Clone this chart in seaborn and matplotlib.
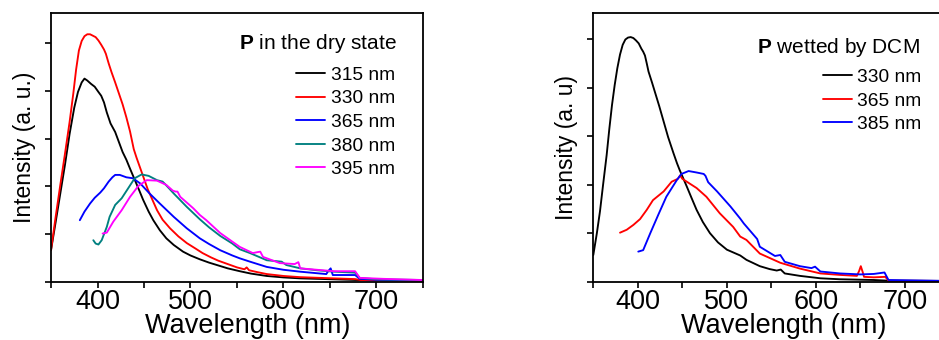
import matplotlib
matplotlib.use("Agg")
import matplotlib.pyplot as plt
from matplotlib.ticker import MultipleLocator, NullFormatter
import numpy as np
import pandas as pd
import seaborn as sns

# ---------------- data: emission spectra (wavelength in nm, intensity in a.u.) ----------------
# P in the dry state, excitation wavelengths
dry_315_x = [350, 355, 360, 365, 370, 375, 379, 383, 386, 389, 393, 397, 401, 404, 407, 410,
             414, 419, 423, 427, 431, 435, 440, 445, 449, 455, 460, 467, 474, 482, 492, 500,
             510, 520, 530, 540, 553, 565, 582, 600, 618, 636, 654, 680, 700, 750]
dry_315_y = [0.66, 1.25, 1.85, 2.45, 3.10, 3.65, 3.98, 4.18, 4.26, 4.22, 4.15, 4.09, 3.98, 3.90,
             3.76, 3.55, 3.32, 3.14, 2.93, 2.72, 2.56, 2.37, 2.14, 1.91, 1.72, 1.47, 1.29, 1.08,
             0.91, 0.77, 0.63, 0.55, 0.47, 0.40, 0.34, 0.28, 0.22, 0.17, 0.12, 0.09, 0.07, 0.06,
             0.05, 0.035, 0.03, 0.025]

dry_330_x = [350, 355, 360, 365, 370, 374, 377, 380, 383, 386, 389, 392, 395, 398, 401, 404,
             407, 409, 412, 415, 419, 423, 427, 431, 435, 439, 442, 446, 450, 454, 459, 464,
             470, 478, 487, 496, 505, 513, 522, 530, 540, 550, 558, 560.4, 563, 572, 582, 600,
             618, 654, 677, 683, 750]
dry_330_y = [0.66, 1.36, 2.03, 2.68, 3.35, 3.95, 4.45, 4.85, 5.05, 5.15, 5.19, 5.19, 5.16, 5.13,
             5.06, 4.97, 4.87, 4.78, 4.58, 4.40, 4.18, 3.95, 3.72, 3.45, 3.15, 2.78, 2.60, 2.38,
             2.16, 1.94, 1.72, 1.50, 1.30, 1.12, 0.95, 0.81, 0.70, 0.60, 0.51, 0.44, 0.37, 0.30,
             0.26, 0.30, 0.24, 0.20, 0.16, 0.12, 0.095, 0.07, 0.055, 0.035, 0.025]

dry_365_x = [381, 386, 392, 397, 403, 407, 412, 416, 419, 424, 431, 438, 446, 456, 467, 482,
             496, 510, 520, 532, 545, 553, 564, 582, 600, 618, 646, 648, 650.7, 653, 660, 677,
             682, 700, 750]
dry_365_y = [1.29, 1.47, 1.64, 1.76, 1.87, 1.96, 2.10, 2.19, 2.24, 2.24, 2.19, 2.17, 2.06, 1.85,
             1.64, 1.36, 1.12, 0.91, 0.79, 0.66, 0.55, 0.49, 0.42, 0.31, 0.25, 0.21, 0.16, 0.22,
             0.28, 0.14, 0.14, 0.14, 0.06, 0.04, 0.03]

dry_380_x = [395.5, 398, 401, 404.5, 410, 413, 419, 426, 433, 440, 447.5, 455, 464, 470, 473,
             482, 496, 510, 520, 532, 545, 553, 564, 582, 598, 603, 618, 636, 654, 677, 682,
             700, 750]
dry_380_y = [0.87, 0.80, 0.78, 0.87, 1.15, 1.36, 1.61, 1.75, 1.96, 2.17, 2.25, 2.22, 2.13, 2.10,
             2.04, 1.85, 1.57, 1.31, 1.14, 0.96, 0.80, 0.68, 0.60, 0.45, 0.42, 0.35, 0.28, 0.24,
             0.21, 0.19, 0.08, 0.05, 0.035]

dry_395_x = [405.5, 410, 417, 426, 435, 444, 453, 464, 474, 481, 484, 486, 489, 496, 503, 510,
             517, 532, 545, 553, 567, 572, 575, 578, 596, 612, 616, 618, 636, 654, 677, 682,
             707, 750]
dry_395_y = [1.01, 1.03, 1.26, 1.50, 1.78, 2.01, 2.13, 2.12, 2.03, 1.91, 1.89, 1.89, 1.78, 1.66,
             1.54, 1.40, 1.29, 1.02, 0.84, 0.73, 0.60, 0.62, 0.63, 0.52, 0.39, 0.37, 0.41, 0.28,
             0.25, 0.22, 0.22, 0.08, 0.06, 0.035]

# P wetted by DCM, excitation wavelengths
dcm_330_x = [350, 354, 357.5, 361, 365, 368, 371, 374, 377, 380, 383, 386, 389, 392, 395, 398,
             401, 404, 406, 408, 410, 412, 416, 419, 424, 429, 434, 440, 444, 447, 451, 455,
             460, 466, 473, 481, 490, 500, 515, 522, 537, 548, 556, 560.5, 565, 582, 605, 627,
             665, 682, 750]
dcm_330_y = [0.55, 1.00, 1.45, 2.00, 2.61, 3.15, 3.64, 4.05, 4.40, 4.68, 4.88, 4.99, 5.03, 5.04,
             5.02, 4.97, 4.91, 4.80, 4.74, 4.66, 4.50, 4.33, 4.10, 3.92, 3.62, 3.30, 2.98, 2.65,
             2.44, 2.30, 2.13, 1.96, 1.74, 1.48, 1.23, 1.00, 0.81, 0.66, 0.54, 0.45, 0.32, 0.26,
             0.23, 0.25, 0.17, 0.12, 0.07, 0.05, 0.035, 0.02, 0.015]

dcm_365_x = [380, 387.5, 395, 402.5, 410, 417, 429, 438, 445, 447.5, 450, 455, 466, 477, 492,
             507, 515, 522, 537, 560, 582, 605, 627, 646, 648.5, 650.4, 652.5, 654, 665, 678,
             681.5, 750]
dcm_365_y = [1.01, 1.07, 1.17, 1.29, 1.48, 1.68, 1.86, 2.06, 2.12, 2.19, 2.12, 2.06, 1.93, 1.75,
             1.41, 1.13, 0.93, 0.86, 0.58, 0.39, 0.27, 0.17, 0.14, 0.12, 0.22, 0.32, 0.20, 0.10,
             0.09, 0.10, 0.02, 0.015]

dcm_385_x = [400.5, 406, 414, 423, 432, 444, 449, 457, 466, 474, 476, 479, 489, 504, 515, 519,
             534, 537, 554, 560, 565, 582, 595, 599, 605, 627, 650, 665, 677, 681.5, 750]
dcm_385_y = [0.62, 0.65, 1.00, 1.38, 1.75, 2.10, 2.22, 2.28, 2.25, 2.22, 2.18, 2.05, 1.86, 1.55,
             1.30, 1.20, 0.88, 0.72, 0.53, 0.55, 0.41, 0.32, 0.28, 0.31, 0.21, 0.17, 0.15, 0.16,
             0.19, 0.035, 0.015]

dry_labels = ["315 nm", "330 nm", "365 nm", "380 nm", "395 nm"]
dry_colors = ["#000000", "#ff0000", "#0000ff", "#008080", "#ff00ff"]
dcm_labels = ["330 nm", "365 nm", "385 nm"]
dcm_colors = ["#000000", "#ff0000", "#0000ff"]


def long_table(xs, ys, labels):
    frames = [pd.DataFrame({"Wavelength": x, "Intensity": y, "Excitation": lab})
              for x, y, lab in zip(xs, ys, labels)]
    return pd.concat(frames, ignore_index=True)


dry = long_table([dry_315_x, dry_330_x, dry_365_x, dry_380_x, dry_395_x],
                 [dry_315_y, dry_330_y, dry_365_y, dry_380_y, dry_395_y], dry_labels)
dcm = long_table([dcm_330_x, dcm_365_x, dcm_385_x],
                 [dcm_330_y, dcm_365_y, dcm_385_y], dcm_labels)

# ---------------- style ----------------
sns.set_theme(style="ticks")
plt.rcParams["font.family"] = ["Liberation Sans", "DejaVu Sans"]
plt.rcParams["mathtext.fontset"] = "custom"
plt.rcParams["mathtext.rm"] = "Liberation Sans"
plt.rcParams["mathtext.bf"] = "Liberation Sans:bold"
for key in ["text.color", "axes.labelcolor", "xtick.color", "ytick.color",
            "xtick.labelcolor", "ytick.labelcolor"]:
    plt.rcParams[key] = "black"

fig = plt.figure(figsize=(9.39, 3.40), dpi=100)
W, H = 939.0, 340.0
ax1 = fig.add_axes([51 / W, 1 - 281.7 / H, 372 / W, 268.4 / H])
ax2 = fig.add_axes([593.3 / W, 1 - 281.7 / H, 356.2 / W, 268.4 / H])


def draw(ax, data, labels, colors, ymax, ylabel, title, title_pos, anchor, xlabel_x):
    sns.lineplot(data=data, x="Wavelength", y="Intensity", hue="Excitation",
                 hue_order=labels, palette=dict(zip(labels, colors)),
                 estimator=None, sort=False, linewidth=1.35, ax=ax, legend=False)
    ax.set_xlim(350, 750)
    ax.set_ylim(0, ymax)
    ax.xaxis.set_major_locator(MultipleLocator(100))
    ax.xaxis.set_minor_locator(MultipleLocator(50))
    ax.yaxis.set_major_locator(MultipleLocator(1))
    ax.yaxis.set_major_formatter(NullFormatter())
    ax.tick_params(axis="both", which="both", direction="out", length=4, width=1.2,
                   color="black", labelsize=19.5, pad=1)
    for s in ax.spines.values():
        s.set_linewidth(1.3)
        s.set_color("black")
    ax.set_xlabel("Wavelength (nm)", fontsize=19.5)
    ax.xaxis.set_label_coords(xlabel_x, -0.118)
    ax.xaxis.label.set_va("top")
    ax.set_ylabel(ylabel, fontsize=16.5, labelpad=6)
    ax.text(title_pos[0], title_pos[1], title, transform=ax.transAxes,
            ha="right", va="baseline", fontsize=15)
    handles = ax.get_lines()[:len(labels)]
    ax.legend(handles, labels, loc="upper right", bbox_to_anchor=anchor,
              frameon=False, fontsize=13.8, handlelength=1.5, handletextpad=0.3,
              labelspacing=0.32, borderpad=0, borderaxespad=0)


draw(ax1, dry, dry_labels, dry_colors, 5.63, "Intensity (a. u.)",
     r"$\mathbf{P}$ in the dry state", (0.930, 0.867), (0.925, 0.802), 0.53)
draw(ax2, dcm, dcm_labels, dcm_colors, 5.53, "Intensity (a. u)",
     r"$\mathbf{P}$ wetted by DCM", (0.917, 0.852), (0.922, 0.794), 0.534)

fig.savefig("out.png", dpi=100)
